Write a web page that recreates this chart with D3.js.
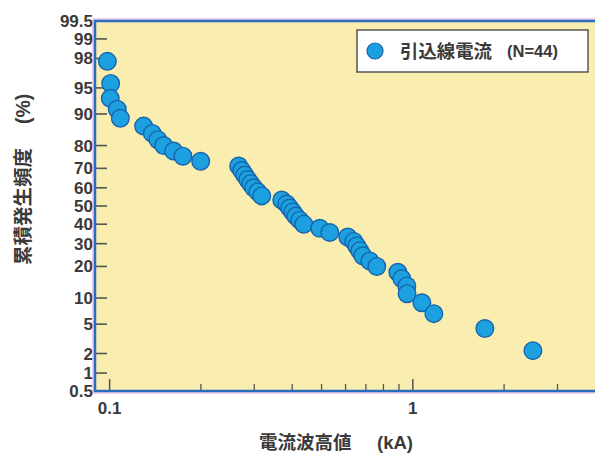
<!DOCTYPE html>
<html lang="ja">

<head>
    <meta charset="UTF-8">
    <script src="https://d3js.org/d3.v7.min.js"></script>
    <title>累積発生頻度</title>
    <style>
        body { margin: 0; background: #fff; }
        text { font-family: "Liberation Sans", Arial, "Noto Sans CJK JP", sans-serif; }
    </style>
</head>

<body>
    <div id="chart"></div>

    <script>
        // current peak (kA), smallest current first
        var currents = [0.0983, 0.1008, 0.1005, 0.106, 0.1085, 0.1295, 0.1383, 0.1443, 0.1508, 0.1626, 0.1745, 0.1997,
            0.2665, 0.2727, 0.279, 0.2854, 0.292, 0.2987, 0.308, 0.3175,
            0.3695, 0.3838, 0.3927, 0.4018, 0.4111, 0.4238, 0.4369,
            0.4933, 0.5322, 0.6101, 0.6388, 0.6535, 0.6686, 0.6839, 0.7213, 0.7607,
            0.8923, 0.9198, 0.9554, 0.957, 1.071, 1.173, 1.728, 2.489];
        // cumulative frequency (%) for each point
        var cumPercent = [97.8, 95.6, 93.3, 91.1, 88.9, 86.7, 84.4, 82.2, 80.0, 77.8, 75.6, 73.3,
            71.1, 68.9, 66.7, 64.4, 62.2, 60.0, 57.8, 55.6,
            53.3, 51.1, 48.9, 46.7, 44.4, 42.2, 40.0,
            37.8, 35.6, 33.3, 31.1, 28.9, 26.7, 24.4, 22.2, 20.0,
            17.8, 15.6, 13.3, 11.1, 8.9, 6.7, 4.4, 2.2];
        var yTicks = [0.5, 1, 2, 5, 10, 20, 30, 40, 50, 60, 70, 80, 90, 95, 98, 99, 99.5];
        var xMajor = [0.1, 1];
        var xMinor = [0.2, 0.3, 0.4, 0.5, 0.6, 0.7, 0.8, 0.9, 2, 3];
        var seriesName = "引込線電流";
        var seriesN = "(N=44)";

        // inverse normal cdf (Acklam) for the probability axis
        probit = (p) => {
            var a = [-3.969683028665376e+01, 2.209460984245205e+02, -2.759285104469687e+02, 1.383577518672690e+02, -3.066479806614716e+01, 2.506628277459239e+00];
            var b = [-5.447609879822406e+01, 1.615858368580409e+02, -1.556989798598866e+02, 6.680131188771972e+01, -1.328068155288572e+01];
            var c = [-7.784894002430293e-03, -3.223964580411365e-01, -2.400758277161838e+00, -2.549732539343734e+00, 4.374664141464968e+00, 2.938163982698783e+00];
            var d = [7.784695709041462e-03, 3.224671290700398e-01, 2.445134137142996e+00, 3.754408661907416e+00];
            var pl = 0.02425, q, r;
            if (p < pl) {
                q = Math.sqrt(-2 * Math.log(p));
                return (((((c[0] * q + c[1]) * q + c[2]) * q + c[3]) * q + c[4]) * q + c[5]) / ((((d[0] * q + d[1]) * q + d[2]) * q + d[3]) * q + 1);
            }
            if (p > 1 - pl) {
                q = Math.sqrt(-2 * Math.log(1 - p));
                return -(((((c[0] * q + c[1]) * q + c[2]) * q + c[3]) * q + c[4]) * q + c[5]) / ((((d[0] * q + d[1]) * q + d[2]) * q + d[3]) * q + 1);
            }
            q = p - 0.5; r = q * q;
            return (((((a[0] * r + a[1]) * r + a[2]) * r + a[3]) * r + a[4]) * r + a[5]) * q / (((((b[0] * r + b[1]) * r + b[2]) * r + b[3]) * r + b[4]) * r + 1);
        };

        var W = 595, H = 453;
        var pLeft = 95, pRight = 598, pTop = 21, pBottom = 391;

        var svg = d3.select("#chart").append("svg")
            .attr("width", W).attr("height", H);

        var x = d3.scaleLog().domain([0.0895, 4.08]).range([pLeft, pRight]);
        var zScale = d3.scaleLinear().domain([probit(0.005), probit(0.995)]).range([pBottom, pTop]);
        var y = (pct) => zScale(probit(pct / 100));

        // plot area
        svg.append("rect")
            .attr("x", pLeft).attr("y", pTop)
            .attr("width", pRight - pLeft).attr("height", pBottom - pTop)
            .attr("fill", "#f9eeaf");

        // y ticks (inside)
        svg.append("g").selectAll("line")
            .data(yTicks.filter(d => d > 0.5 && d < 99.5))
            .enter().append("line")
            .attr("x1", pLeft).attr("x2", pLeft + 12)
            .attr("y1", d => y(d)).attr("y2", d => y(d))
            .attr("stroke", "#555").attr("stroke-width", 1.6);

        svg.append("g").selectAll("text")
            .data(yTicks)
            .enter().append("text")
            .attr("x", pLeft - 2)
            .attr("y", d => y(d) + 6)
            .attr("text-anchor", "end")
            .attr("font-size", 17).attr("font-weight", "bold")
            .attr("fill", "#3a3a3a")
            .text(d => d);

        // x ticks (inside, from the bottom)
        svg.append("g").selectAll("line")
            .data(xMinor)
            .enter().append("line")
            .attr("x1", d => x(d)).attr("x2", d => x(d))
            .attr("y1", pBottom).attr("y2", pBottom - 7)
            .attr("stroke", "#555").attr("stroke-width", 1.3);
        svg.append("g").selectAll("line")
            .data(xMajor)
            .enter().append("line")
            .attr("x1", d => x(d)).attr("x2", d => x(d))
            .attr("y1", pBottom).attr("y2", pBottom - 12)
            .attr("stroke", "#555").attr("stroke-width", 1.5);
        svg.append("g").selectAll("text")
            .data(xMajor)
            .enter().append("text")
            .attr("x", d => x(d))
            .attr("y", pBottom + 23)
            .attr("text-anchor", "middle")
            .attr("font-size", 17).attr("font-weight", "bold")
            .attr("fill", "#3a3a3a")
            .text(d => d);

        // frame: thin pink outline then blue border
        svg.append("rect")
            .attr("x", pLeft - 2).attr("y", pTop - 2)
            .attr("width", pRight - pLeft + 4).attr("height", pBottom - pTop + 4)
            .attr("fill", "none").attr("stroke", "#e8a0d0").attr("stroke-width", 1);
        svg.append("rect")
            .attr("x", pLeft).attr("y", pTop)
            .attr("width", pRight - pLeft).attr("height", pBottom - pTop)
            .attr("fill", "none").attr("stroke", "#2a6cc0").attr("stroke-width", 2.5);

        // points
        var pts = currents.map((c, i) => ({ current: c, pct: cumPercent[i] }));
        svg.append("g").selectAll("circle")
            .data(pts)
            .enter().append("circle")
            .attr("cx", d => x(d.current))
            .attr("cy", d => y(d.pct))
            .attr("r", 8.8)
            .attr("fill", "#1ca0e0")
            .attr("stroke", "#1764ac").attr("stroke-width", 1.4);

        // legend
        var lg = svg.append("g");
        lg.append("rect")
            .attr("x", 357).attr("y", 30).attr("width", 231).attr("height", 42)
            .attr("fill", "#fff").attr("stroke", "#555").attr("stroke-width", 1.5);
        lg.append("circle")
            .attr("cx", 375).attr("cy", 51).attr("r", 8)
            .attr("fill", "#1ca0e0").attr("stroke", "#1764ac").attr("stroke-width", 1.2);
        lg.append("text")
            .attr("x", 400).attr("y", 58)
            .attr("font-size", 18.4).attr("font-weight", "bold").attr("fill", "#3a3a3a")
            .text(seriesName);
        lg.append("text")
            .attr("x", 507).attr("y", 57)
            .attr("font-size", 16.5).attr("font-weight", "bold").attr("fill", "#3a3a3a")
            .text(seriesN);

        // axis titles
        var xt = svg.append("text")
            .attr("x", 259).attr("y", 449)
            .attr("font-size", 18.5).attr("font-weight", "bold").attr("fill", "#3a3a3a");
        xt.append("tspan").text("電流波高値");
        xt.append("tspan").attr("x", 377).text("(kA)");

        var yt = svg.append("text")
            .attr("transform", "translate(30,0) rotate(-90)")
            .attr("font-size", 19.5).attr("font-weight", "bold").attr("fill", "#3a3a3a");
        yt.append("tspan").attr("x", -265).text("累積発生頻度");
        yt.append("tspan").attr("x", -124).text("(%)");
    </script>
</body>

</html>
